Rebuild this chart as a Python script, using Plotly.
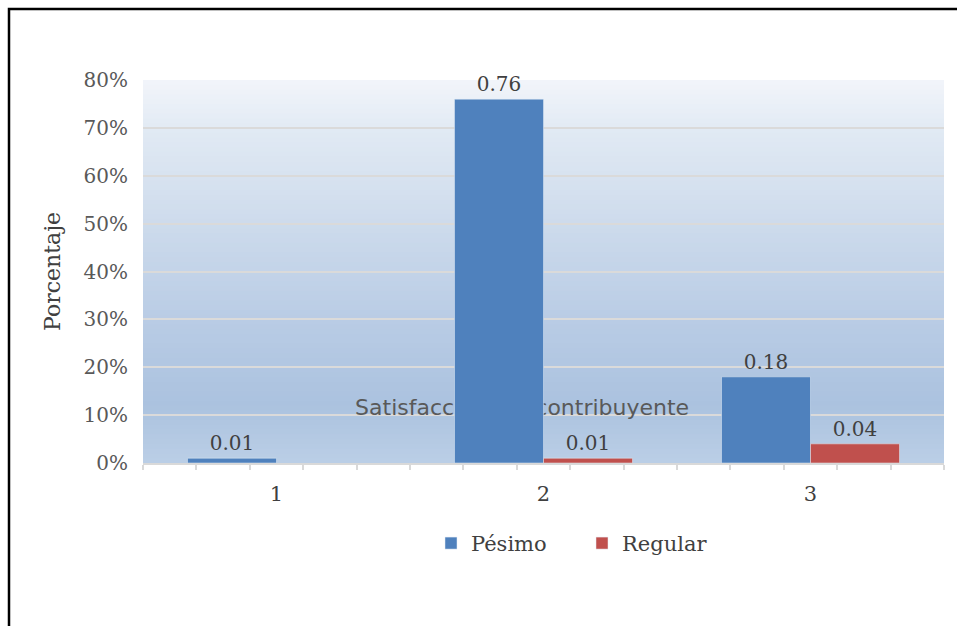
import plotly.graph_objects as go

# Chart data
categories = [1, 2, 3]
tick_labels = ["1", "2", "3"]
pesimo = [0.01, 0.76, 0.18]
regular = [None, 0.01, 0.04]
series_names = ["Pésimo", "Regular"]
y_ticks = [0.0, 0.1, 0.2, 0.3, 0.4, 0.5, 0.6, 0.7, 0.8]
x_title = "Satisfacción del contribuyente"
y_title = "Porcentaje"

BLUE = "#4f81bd"
RED = "#c0504d"
TEXT = "#404040"
SERIF = "DejaVu Serif"

fig = go.Figure()

# Axis title text sits on the base subplot so the bars cover it
fig.add_trace(go.Scatter(
    x=[1.92], y=[0.111], mode="text", text=[x_title],
    textfont=dict(family="DejaVu Sans", size=22, color="#595959"),
    xaxis="x", yaxis="y", showlegend=False, hoverinfo="skip",
))

def fmt(vals):
    return [f"{v:.2f}" if v is not None else "" for v in vals]

fig.add_trace(go.Bar(
    x=categories, y=pesimo, name=series_names[0], marker_color=BLUE,
    text=fmt(pesimo), textposition="outside", cliponaxis=False,
    textfont=dict(family=SERIF, size=20, color=TEXT),
    xaxis="x2", yaxis="y",
))
fig.add_trace(go.Bar(
    x=categories, y=regular, name=series_names[1], marker_color=RED,
    text=fmt(regular), textposition="outside", cliponaxis=False,
    textfont=dict(family=SERIF, size=20, color=TEXT),
    xaxis="x2", yaxis="y",
))

# Vertical gradient behind the plot area, built from overlapping thin bands
stops = [
    (0.00, (0xbb, 0xcf, 0xe6)),
    (0.12, (0xab, 0xc2, 0xdf)),
    (0.30, (0xb9, 0xcc, 0xe5)),
    (0.50, (0xcd, 0xdb, 0xec)),
    (0.70, (0xe2, 0xea, 0xf4)),
    (0.80, (0xf2, 0xf5, 0xfa)),
]

def color_at(v):
    for (a, ca), (b, cb) in zip(stops, stops[1:]):
        if a <= v <= b:
            t = (v - a) / (b - a)
            return "rgb(%d,%d,%d)" % tuple(round(ca[i] + (cb[i] - ca[i]) * t) for i in range(3))
    return "rgb(%d,%d,%d)" % stops[-1][1]

n = 80
step = 0.8 / n
shapes = []
for i in range(n):
    y0 = step * i
    y1 = min(0.8, y0 + 2 * step)
    shapes.append(dict(
        type="rect", xref="paper", yref="y", x0=0, x1=1, y0=y0, y1=y1,
        fillcolor=color_at(y0 + step / 2), line_width=0, layer="below",
    ))
# Outer frame
shapes.append(dict(
    type="rect", xref="paper", yref="paper",
    x0=(9 - 143) / 801, x1=1.2, y0=-0.6, y1=(463 - 9) / 383,
    line=dict(color="black", width=2.5), fillcolor="rgba(0,0,0,0)", layer="above",
))

fig.update_layout(
    width=957, height=626,
    margin=dict(l=143, r=13, t=80, b=163),
    paper_bgcolor="white", plot_bgcolor="white",
    barmode="group", bargap=1 / 3, bargroupgap=0,
    shapes=shapes,
    xaxis=dict(
        range=[0.5, 3.5], tickvals=categories, ticktext=tick_labels,
        ticks="", showgrid=False, zeroline=False,
        showline=True, linecolor="#d9d9d9", linewidth=1.5,
        tickfont=dict(family=SERIF, size=21, color=TEXT),
        ticklabelstandoff=11,
        minor=dict(tick0=0.5, dtick=0.2, ticks="outside", ticklen=5,
                   tickcolor="#d9d9d9", tickwidth=1.5, showgrid=False),
    ),
    xaxis2=dict(range=[0.5, 3.5], overlaying="x", visible=False),
    yaxis=dict(
        range=[0, 0.8], tickvals=y_ticks, tickformat=".0%",
        showgrid=True, gridcolor="#dadada", gridwidth=1.5,
        zeroline=False, showline=False,
        tickfont=dict(family=SERIF, size=20, color="#595959"),
        ticklabelstandoff=14,
        title=dict(text=y_title, font=dict(family=SERIF, size=22, color=TEXT), standoff=16),
    ),
    legend=dict(
        orientation="h", x=(431 - 143) / 801, xanchor="left", y=-0.21, yanchor="middle",
        font=dict(family=SERIF, size=21, color=TEXT), itemwidth=30,
        entrywidth=106, traceorder="normal",
    ),
)

fig.write_html("out.html")
